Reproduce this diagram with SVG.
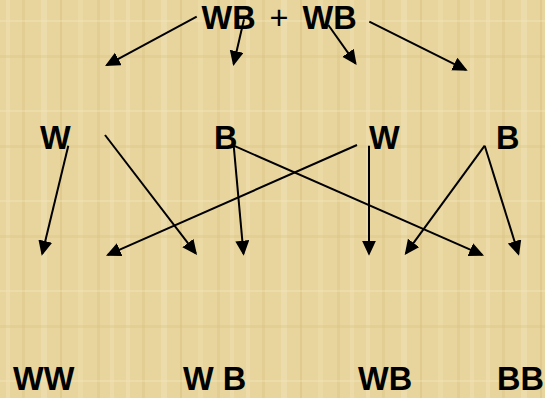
<svg xmlns="http://www.w3.org/2000/svg" width="545" height="398" viewBox="0 0 545 398">
<style>
.t{font-family:"Liberation Sans",Arial,sans-serif;font-weight:bold;font-size:32.5px;fill:#000}
.c line{stroke:#000;stroke-width:2;marker-end:url(#ah)}
</style>
<defs>
<marker id="ah" markerUnits="userSpaceOnUse" markerWidth="16" markerHeight="15" refX="13" refY="7" orient="auto">
<path d="M0,0 L15,7 L0,14 z" fill="#000"/>
</marker>
<pattern id="pap" width="120" height="90" patternUnits="userSpaceOnUse">
<rect width="120" height="90" fill="#E8D59E"/>
<rect x="6" width="4" height="90" fill="#F0E0B0" opacity="0.6"/>
<rect x="22" width="3" height="90" fill="#DCC587" opacity="0.5"/>
<rect x="41" width="6" height="90" fill="#F2E4B8" opacity="0.5"/>
<rect x="60" width="2" height="90" fill="#D8C07E" opacity="0.5"/>
<rect x="78" width="5" height="90" fill="#EFDDAA" opacity="0.6"/>
<rect x="97" width="3" height="90" fill="#DCC586" opacity="0.5"/>
<rect x="110" width="4" height="90" fill="#F0E1B2" opacity="0.5"/>
<rect y="20" width="120" height="2" fill="#F3E6BC" opacity="0.4"/>
<rect y="55" width="120" height="3" fill="#D9C280" opacity="0.3"/>
</pattern>
</defs>
<rect width="545" height="398" fill="url(#pap)"/>
<g id="parents">
<text class="t" x="201.5" y="28.5">WB</text>
<text class="t" x="279" y="28.5" text-anchor="middle" style="font-weight:normal">+</text>
<text class="t" x="302.5" y="28.5">WB</text>
</g>
<g id="g1"><text class="t" x="40" y="149">W</text></g>
<g id="g2"><text class="t" x="214" y="149">B</text></g>
<g id="g3"><text class="t" x="369" y="149">W</text></g>
<g id="g4"><text class="t" x="496" y="149">B</text></g>
<g id="o1"><text class="t" x="13" y="390">WW</text></g>
<g id="o2"><text class="t" x="183" y="390">W B</text></g>
<g id="o3"><text class="t" x="358" y="390">WB</text></g>
<g id="o4"><text class="t" x="497" y="390">BB</text></g>
<g class="c" id="connectors">
<line x1="196.7" y1="16.7" x2="106.8" y2="65.1"/>
<line x1="244" y1="19.3" x2="233.7" y2="64"/>
<line x1="328.3" y1="25" x2="355.5" y2="63.4"/>
<line x1="369.3" y1="21.7" x2="465.9" y2="69.8"/>
<line x1="68.3" y1="145.7" x2="42.2" y2="253.8"/>
<line x1="105" y1="135" x2="195.8" y2="253.4"/>
<line x1="357" y1="145" x2="107.8" y2="254.9"/>
<line x1="233.7" y1="145.7" x2="243.5" y2="253.7"/>
<line x1="233.7" y1="145.7" x2="482.2" y2="254.9"/>
<line x1="369" y1="145.7" x2="369" y2="253.7"/>
<line x1="484.7" y1="145.7" x2="405.9" y2="253.4"/>
<line x1="484.7" y1="145.7" x2="518.4" y2="253.8"/>
</g>
</svg>
